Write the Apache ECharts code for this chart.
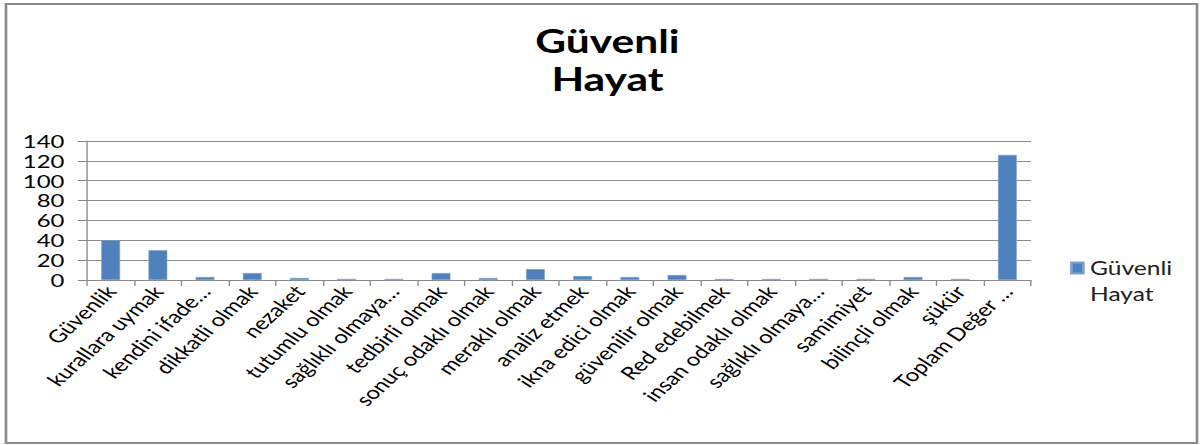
<!DOCTYPE html>
<html>
<head>
<meta charset="utf-8">
<script src="https://cdn.jsdelivr.net/npm/echarts@6/dist/echarts.min.js"></script>
<style>
  html, body { margin: 0; padding: 0; background: #fff; overflow: hidden; }
  #wrap { width: 1203px; height: 445px; overflow: hidden; }
  #chart { width: 905px; height: 445px; transform-origin: 0 0; transform: scale(1.3293, 1); }
</style>
</head>
<body>
<div id="wrap"><div id="chart"></div></div>
<script>
const categories = [
  'Güvenlik', 'kurallara uymak', 'kendini ifade…', 'dikkatli olmak', 'nezaket',
  'tutumlu olmak', 'sağlıklı olmaya…', 'tedbirli olmak', 'sonuç odaklı olmak', 'meraklı olmak',
  'analiz etmek', 'ikna edici olmak', 'güvenilir olmak', 'Red edebilmek', 'insan odaklı olmak',
  'sağlıklı olmaya…', 'samimiyet', 'bilinçli olmak', 'şükür', 'Toplam Değer …'
];
const values = [40, 30, 3, 7, 2, 1, 1, 7, 2, 11, 4, 3, 5, 1, 1, 1, 1, 3, 1, 126];
const seriesName = 'Güvenli Hayat';
const legendLines = ['Güvenli', 'Hayat'];
const titleText = 'Güvenli\nHayat';
const yTicks = { min: 0, max: 140, interval: 20 };

const chart = echarts.init(document.getElementById('chart'), null, { renderer: 'svg' });
const font = 'Lato, "Open Sans", sans-serif';
chart.setOption({
  animation: false,
  backgroundColor: '#fff',
  title: {
    text: titleText,
    left: 452, top: 17,
    textAlign: 'center',
    textStyle: { fontFamily: font, fontWeight: 'bold', fontSize: 32, lineHeight: 38, color: '#000' }
  },
  legend: {
    orient: 'vertical',
    left: 800, top: 224,
    itemWidth: 9, itemHeight: 11,
    itemGap: 4,
    icon: 'rect',
    formatter: () => '\u00a0\n' + legendLines.join('\n'),
    textStyle: { fontFamily: font, fontSize: 18.5, lineHeight: 26, color: '#222' }
  },
  graphic: [{
    type: 'rect',
    shape: { x: 4.5, y: 4, width: 896, height: 439 },
    style: { fill: 'none', stroke: '#8a8a8a', lineWidth: 2 },
    silent: true
  }],
  grid: { left: 65.5, right: 129.4, top: 141, bottom: 165, containLabel: false },
  xAxis: {
    type: 'category',
    data: categories,
    axisLine: { lineStyle: { color: '#888', width: 1 } },
    axisTick: { show: true, length: 6, lineStyle: { color: '#888' } },
    axisLabel: { rotate: 50, interval: 0, margin: 8, fontFamily: font, fontSize: 18, color: '#000' }
  },
  yAxis: {
    type: 'value',
    min: yTicks.min, max: yTicks.max, interval: yTicks.interval,
    axisLine: { show: true, lineStyle: { color: '#888', width: 1 } },
    axisTick: { show: true, length: 7, lineStyle: { color: '#888' } },
    splitLine: { lineStyle: { color: '#8c8c8c', width: 1 } },
    axisLabel: { margin: 17, fontFamily: font, fontSize: 18, color: '#000' }
  },
  series: [{
    name: seriesName,
    type: 'bar',
    data: values,
    barCategoryGap: '60%',
    itemStyle: { color: '#4F81BD', borderColor: '#7fa3cf', borderWidth: 0.5 }
  }]
});
</script>
</body>
</html>
